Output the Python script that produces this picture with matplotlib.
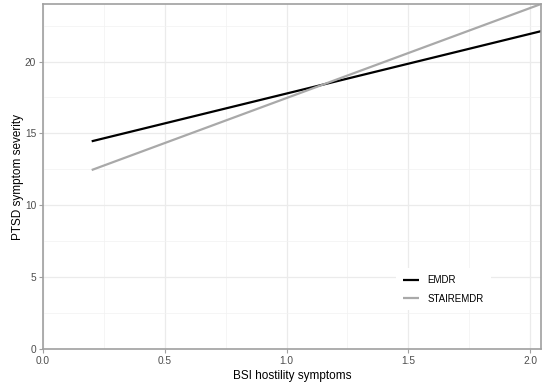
import matplotlib
matplotlib.use("Agg")
import matplotlib.pyplot as plt
from matplotlib.ticker import MultipleLocator

plt.rcParams['font.family'] = ['Liberation Sans', 'DejaVu Sans']

# Fitted lines: predicted PTSD severity at the ends of the BSI hostility range
hostility = [0.2, 2.05]
emdr = [14.45, 22.13]
stairemdr = [12.45, 24.03]

groups = ["EMDR", "STAIREMDR"]
colors = ["#000000", "#A9A9A9"]

fig = plt.figure(figsize=(5.49, 3.85), dpi=100)
ax = fig.add_axes([0.0783, 0.0935, 0.9071, 0.8961])

for vals, name, col in zip([emdr, stairemdr], groups, colors):
    ax.plot(hostility, vals, color=col, lw=1.6, label=name, solid_capstyle='butt')

ax.set_xlim(0, 2.045)
ax.set_ylim(0, 24)
ax.xaxis.set_major_locator(MultipleLocator(0.5))
ax.xaxis.set_minor_locator(MultipleLocator(0.25))
ax.yaxis.set_major_locator(MultipleLocator(5))
ax.yaxis.set_minor_locator(MultipleLocator(2.5))
ax.set_xticks([0.0, 0.5, 1.0, 1.5, 2.0])
ax.set_xticklabels(["0.0", "0.5", "1.0", "1.5", "2.0"])

ax.grid(which='major', color='#EBEBEB', lw=0.9)
ax.grid(which='minor', color='#F2F2F2', lw=0.5)
ax.set_axisbelow(True)

for s in ax.spines.values():
    s.set_color('#A0A0A0')
    s.set_linewidth(1.2)

ax.tick_params(which='major', length=3, width=0.8, color='#A0A0A0',
               labelsize=7.3, labelcolor='#4D4D4D', pad=2)
ax.tick_params(which='minor', length=0)

ax.set_xlabel("BSI hostility symptoms", fontsize=8.5, labelpad=3)
ax.set_ylabel("PTSD symptom severity", fontsize=8.5)
ax.yaxis.set_label_coords(-0.039, 0.5)

leg = ax.legend(loc='lower left', bbox_to_anchor=(0.70, 0.098), frameon=True,
                fontsize=7, handlelength=1.6, handletextpad=0.9,
                labelspacing=0.85, borderpad=0.7, fancybox=False)
leg.get_frame().set_edgecolor('none')
leg.get_frame().set_facecolor('white')
leg.get_frame().set_alpha(1.0)

fig.savefig("out.png", dpi=100)
